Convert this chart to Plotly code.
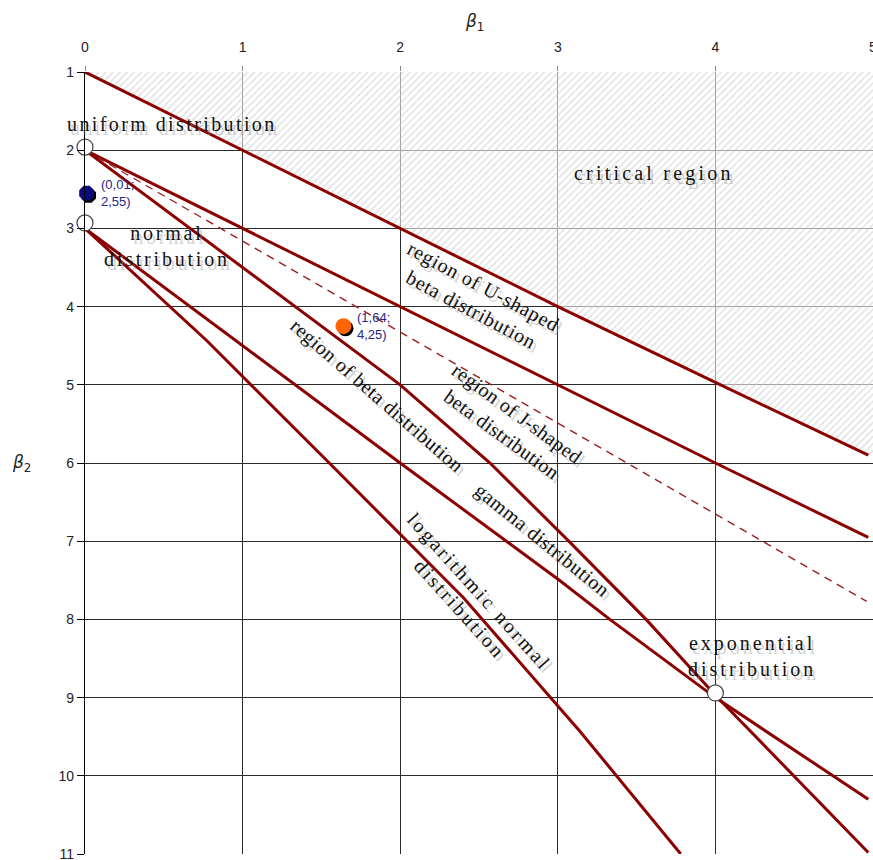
import plotly.graph_objects as go

# ---- data (beta1, beta2) ----
crit_b1 = [0, 3, 4, 4.97]
crit_b2 = [1, 4, 4.97, 5.9]
u_b1 = [0, 2, 3, 4, 4.97]
u_b2 = [2, 4, 5, 6, 6.95]
dash_b1 = [0, 4.96]
dash_b2 = [2, 7.77]
j_b1 = [0, 1, 1.62, 2, 2.57, 3.06, 3.56, 4, 4.97]
j_b2 = [2, 3.5, 4.42, 5, 6, 6.98, 8, 8.97, 10.98]
beta_b1 = [0, 2, 3.01, 3.33, 4, 4.97]
beta_b2 = [3, 6, 7.5, 8, 9, 10.3]
logn_b1 = [0, 0.77, 1.55, 2.4, 3.14, 3.78]
logn_b2 = [3, 4.43, 6.0, 7.72, 9.43, 11]

special_b1 = [0, 0, 4]
special_b2 = [1.96, 2.93, 8.94]
sample1 = (0.01, 2.55)
sample2 = (1.64, 4.25)
sample1_label = "(0,01;<br>2,55)"
sample2_label = "(1,64;<br>4,25)"

x_ticks = [0, 1, 2, 3, 4, 5]
y_ticks = [1, 2, 3, 4, 5, 6, 7, 8, 9, 10, 11]
x_range = [0, 5]
y_range = [11, 1]

LINE = "#8b0000"
fig = go.Figure()

# hatched critical region
hx = crit_b1 + [x_range[1], x_range[1], crit_b1[0]]
hy = crit_b2 + [crit_b2[-1], y_range[1], crit_b2[0]]
fig.add_trace(go.Scatter(x=hx, y=hy, mode="lines", fill="toself",
                         line=dict(width=0), fillcolor="rgba(255,255,255,0.55)",
                         fillpattern=dict(shape="/", fgcolor="#c4c4c4", bgcolor="rgba(255,255,255,0.55)",
                                          size=5, solidity=0.3),
                         hoverinfo="skip", showlegend=False))

for xs, ys in [(crit_b1, crit_b2), (u_b1, u_b2), (j_b1, j_b2), (beta_b1, beta_b2), (logn_b1, logn_b2)]:
    fig.add_trace(go.Scatter(x=xs, y=ys, mode="lines", line=dict(color=LINE, width=3),
                             showlegend=False, hoverinfo="skip"))
fig.add_trace(go.Scatter(x=dash_b1, y=dash_b2, mode="lines",
                         line=dict(color="#9b1c1c", width=1.3, dash="8px,6px"),
                         showlegend=False, hoverinfo="skip"))

# special points
fig.add_trace(go.Scatter(x=special_b1, y=special_b2, mode="markers", cliponaxis=False,
                         marker=dict(size=16, color="white", line=dict(color="#444", width=1.2)),
                         showlegend=False, hoverinfo="skip"))

# sample points with shadow
dx, dy = 0.013, 0.028
fig.add_trace(go.Scatter(x=[sample1[0] + dx, sample2[0] + dx], y=[sample1[1] + dy, sample2[1] + dy],
                         mode="markers", cliponaxis=False,
                         marker=dict(size=16, color="black", symbol=["octagon", "circle"]),
                         showlegend=False, hoverinfo="skip"))
fig.add_trace(go.Scatter(x=[sample1[0]], y=[sample1[1]], mode="markers", cliponaxis=False,
                         marker=dict(size=16, color="#0a0a7a", symbol="octagon"),
                         showlegend=False, hoverinfo="skip"))
fig.add_trace(go.Scatter(x=[sample2[0]], y=[sample2[1]], mode="markers", cliponaxis=False,
                         marker=dict(size=16, color="#ff6600", symbol="circle"),
                         showlegend=False, hoverinfo="skip"))

SERIF = "Liberation Serif"
# text, beta1, beta2, angle, letter spacing
labels = [
    ("uniform distribution", 0.552, 1.665, 0, 2.4),
    ("critical region", 3.608, 2.30, 0, 3.2),
    ("normal<br>distribution", 0.52, 3.225, 0, 2.8),
    ("region of U-shaped<br>beta distribution", 2.49, 3.89, 28, 0.8),
    ("region of J-shaped<br>beta distribution", 2.695, 5.50, 36, 0.4),
    ("region of beta distribution", 1.85, 5.14, 41, 0.5),
    ("gamma distribution", 2.904, 6.985, 39, 0.6),
    ("logarithmic normal<br>distribution", 2.44, 7.75, 48, 2.8),
    ("exponential<br>distribution", 4.23, 8.47, 0, 3.0),
]


def spaced(t, sp):
    return "<br>".join('<span style="letter-spacing:%.1fpx">%s</span>' % (sp, p) for p in t.split("<br>"))


for txt, x, y, ang, sp in labels:
    fig.add_annotation(x=x, y=y, text=spaced(txt, sp), showarrow=False, textangle=ang,
                       xshift=3, yshift=-4,
                       font=dict(family=SERIF, size=20, color="rgba(140,140,140,0.4)"))
    fig.add_annotation(x=x, y=y, text=spaced(txt, sp), showarrow=False, textangle=ang,
                       font=dict(family=SERIF, size=20, color="#111"))

for (px_, py_), lab in [(sample1, sample1_label), (sample2, sample2_label)]:
    fig.add_annotation(x=px_, y=py_, text=lab, showarrow=False, xanchor="left", align="left",
                       xshift=12, font=dict(family="Liberation Sans", size=13, color="#26248a"))

# axis titles
fig.add_annotation(xref="paper", yref="paper", x=0.494, y=1.0, yshift=50, xanchor="center",
                   yanchor="middle", text="<i>β</i><sub>1</sub>",
                   showarrow=False, font=dict(family="DejaVu Sans", size=17, color="#222"))
fig.add_annotation(xref="paper", yref="paper", x=-0.08, y=0.50, xanchor="center", yanchor="middle",
                   text="<i>β</i><sub>2</sub>",
                   showarrow=False, font=dict(family="DejaVu Sans", size=17, color="#222"))

fig.update_layout(
    width=873, height=860,
    margin=dict(l=85, r=0, t=72, b=6, autoexpand=False),
    paper_bgcolor="white", plot_bgcolor="white",
    xaxis=dict(side="top", range=x_range, tickvals=x_ticks, showgrid=True, gridcolor="#2b2b2b",
               gridwidth=1, zeroline=False, showline=False, ticks="outside", ticklen=5,
               tickcolor="#888", ticklabelstandoff=8, automargin=False, ticklabeloverflow="allow",
               tickfont=dict(family="Liberation Sans Narrow, Liberation Sans", size=14, color="#222")),
    yaxis=dict(range=y_range, tickvals=y_ticks, showgrid=True, gridcolor="#2b2b2b", gridwidth=1,
               zeroline=False, showline=True, linecolor="black", linewidth=1.2,
               ticks="outside", ticklen=7, tickcolor="black", automargin=False, ticklabeloverflow="allow",
               tickfont=dict(family="Liberation Sans Narrow, Liberation Sans", size=14, color="#222")),
)
fig.write_html("out.html", config={"displayModeBar": False},
               post_script="document.body.style.margin='0';document.body.style.overflow='hidden';")
